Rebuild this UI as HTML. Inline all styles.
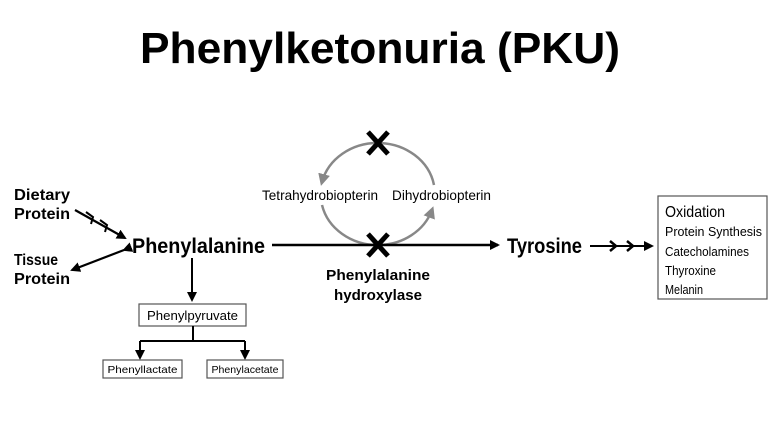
<!DOCTYPE html>
<html><head><meta charset="utf-8"><style>
html,body{margin:0;padding:0;background:#fff;}
svg{display:block;font-family:"Liberation Sans",sans-serif;}
</style></head><body>
<svg width="780" height="440" viewBox="0 0 780 440" xmlns="http://www.w3.org/2000/svg">
<defs>
<marker id="a" markerWidth="10" markerHeight="10" refX="8" refY="5" orient="auto" markerUnits="userSpaceOnUse"><path d="M0,0 L10,5 L0,10 Z" fill="#000"/></marker>
<marker id="g" markerWidth="12" markerHeight="12" refX="8" refY="6" orient="auto" markerUnits="userSpaceOnUse"><path d="M0,0 L12,6 L0,12 Z" fill="#888"/></marker>
</defs>
<rect width="780" height="440" fill="#fff"/>
<text x="140" y="63" font-size="44" font-weight="bold" textLength="480" lengthAdjust="spacingAndGlyphs">Phenylketonuria (PKU)</text>

<path d="M378,143 A57,51 0 0 0 322,182" fill="none" stroke="#888" stroke-width="2.5" marker-end="url(#g)"/>
<path d="M322,205 A57,51 0 0 0 378,245 A57,51 0 0 0 432,210" fill="none" stroke="#888" stroke-width="2.5" marker-end="url(#g)"/>
<path d="M378,143 A57,51 0 0 1 434,185" fill="none" stroke="#888" stroke-width="2.5"/>
<text x="262" y="200" font-size="14" textLength="116" lengthAdjust="spacingAndGlyphs">Tetrahydrobiopterin</text>
<text x="392" y="200" font-size="14" textLength="99" lengthAdjust="spacingAndGlyphs">Dihydrobiopterin</text>
<path d="M368,132 L388,154 M388,132 L368,154" stroke="#000" stroke-width="5"/>
<path d="M368,234 L388,256 M388,234 L368,256" stroke="#000" stroke-width="5"/>

<text x="14" y="200" font-size="16" font-weight="bold" textLength="56" lengthAdjust="spacingAndGlyphs">Dietary</text>
<text x="14" y="219" font-size="16" font-weight="bold" textLength="56" lengthAdjust="spacingAndGlyphs">Protein</text>
<text x="14" y="265" font-size="16" font-weight="bold" textLength="44" lengthAdjust="spacingAndGlyphs">Tissue</text>
<text x="14" y="284" font-size="16" font-weight="bold" textLength="56" lengthAdjust="spacingAndGlyphs">Protein</text>
<line x1="75" y1="210" x2="125" y2="238" stroke="#000" stroke-width="2.2" marker-end="url(#a)"/>
<path d="M86,212 l7,5 l-2,7 M100,220 l7,5 l-2,7" stroke="#000" stroke-width="2" fill="none"/>
<line x1="124" y1="250" x2="72" y2="270" stroke="#000" stroke-width="2.2" marker-end="url(#a)" marker-start="url(#a)"/>

<text x="132" y="253" font-size="21" font-weight="bold" textLength="133" lengthAdjust="spacingAndGlyphs">Phenylalanine</text>
<line x1="272" y1="245" x2="498" y2="245" stroke="#000" stroke-width="2.5" marker-end="url(#a)"/>
<text x="507" y="253" font-size="21" font-weight="bold" textLength="75" lengthAdjust="spacingAndGlyphs">Tyrosine</text>
<line x1="590" y1="246" x2="652" y2="246" stroke="#000" stroke-width="2" marker-end="url(#a)"/>
<path d="M610,241 l6,5 l-6,5 M627,241 l6,5 l-6,5" stroke="#000" stroke-width="2.5" fill="none"/>

<text x="378" y="280" font-size="15" font-weight="bold" text-anchor="middle" textLength="104" lengthAdjust="spacingAndGlyphs">Phenylalanine</text>
<text x="378" y="300" font-size="15" font-weight="bold" text-anchor="middle" textLength="88" lengthAdjust="spacingAndGlyphs">hydroxylase</text>

<rect x="658" y="196" width="109" height="103" fill="none" stroke="#555" stroke-width="1.2"/>
<text x="665" y="217" font-size="16" textLength="60" lengthAdjust="spacingAndGlyphs">Oxidation</text>
<text x="665" y="236" font-size="13" textLength="97" lengthAdjust="spacingAndGlyphs">Protein Synthesis</text>
<text x="665" y="256" font-size="13" textLength="84" lengthAdjust="spacingAndGlyphs">Catecholamines</text>
<text x="665" y="275" font-size="13" textLength="51" lengthAdjust="spacingAndGlyphs">Thyroxine</text>
<text x="665" y="294" font-size="13" textLength="38" lengthAdjust="spacingAndGlyphs">Melanin</text>

<line x1="192" y1="258" x2="192" y2="300" stroke="#000" stroke-width="2" marker-end="url(#a)"/>
<rect x="139" y="304" width="107" height="22" fill="#fff" stroke="#555" stroke-width="1.2"/>
<text x="192.5" y="320" font-size="13" text-anchor="middle" textLength="91" lengthAdjust="spacingAndGlyphs">Phenylpyruvate</text>
<path d="M193,326 L193,341 M140,341 L245,341" stroke="#000" stroke-width="2" fill="none"/>
<line x1="140" y1="341" x2="140" y2="358" stroke="#000" stroke-width="2" marker-end="url(#a)"/>
<line x1="245" y1="341" x2="245" y2="358" stroke="#000" stroke-width="2" marker-end="url(#a)"/>
<rect x="103" y="360" width="79" height="18" fill="#fff" stroke="#555" stroke-width="1.2"/>
<text x="142.5" y="373" font-size="10.5" text-anchor="middle" textLength="70" lengthAdjust="spacingAndGlyphs">Phenyllactate</text>
<rect x="207" y="360" width="76" height="18" fill="#fff" stroke="#555" stroke-width="1.2"/>
<text x="245" y="373" font-size="10.5" text-anchor="middle" textLength="67" lengthAdjust="spacingAndGlyphs">Phenylacetate</text>
</svg>
</body></html>
